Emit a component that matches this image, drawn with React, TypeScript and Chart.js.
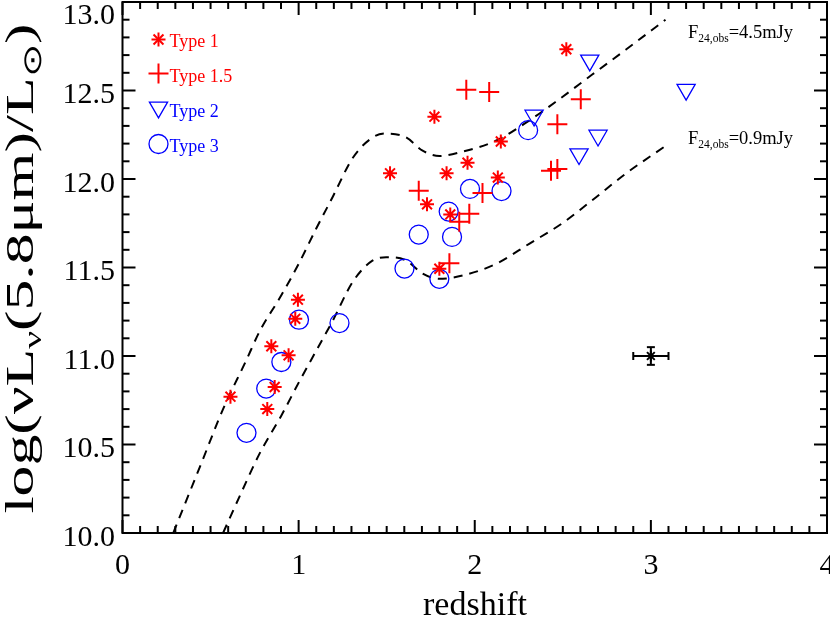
import React, { useEffect, useRef } from 'react';
import { Chart, registerables } from 'chart.js';

Chart.register(...registerables);

// ---- Data (redshift, log luminosity) ----
const type1Z = [0.613, 0.822, 0.864, 0.845, 0.943, 0.981, 0.996, 1.519, 1.729, 1.771, 1.799, 1.840, 1.861, 1.959, 2.131, 2.148, 2.520];
const type1L = [10.77, 10.70, 10.825, 11.055, 11.004, 11.21, 11.318, 12.032, 11.857, 12.352, 11.493, 12.032, 11.80, 12.092, 12.008, 12.212, 12.733];

const type15Z = [1.682, 1.856, 1.912, 1.969, 1.952, 2.082, 2.044, 2.433, 2.469, 2.469, 2.602];
const type15L = [11.934, 11.524, 11.759, 11.803, 12.504, 12.492, 11.921, 12.047, 12.057, 12.31, 12.45];

const type2Z = [2.337, 2.592, 2.653, 2.70, 3.20];
const type2L = [12.359, 12.141, 12.67, 12.246, 12.505];

const type3Z = [0.704, 0.816, 0.902, 1.002, 1.232, 1.601, 1.682, 1.799, 1.852, 1.871, 1.973, 2.152, 2.303];
const type3L = [10.566, 10.816, 10.966, 11.205, 11.186, 11.494, 11.686, 11.436, 11.816, 11.673, 11.944, 11.932, 12.276];

// flux-limit tracks
const limitHighZ = [0.288, 0.45, 0.571, 0.7, 0.779, 0.9, 1.0, 1.1, 1.194, 1.308, 1.421, 1.497, 1.61, 1.704, 1.799, 1.931, 2.12, 2.309, 2.479, 2.667, 2.857, 3.083];
const limitHighL = [10.0, 10.40, 10.70, 10.97, 11.14, 11.34, 11.52, 11.72, 11.90, 12.12, 12.235, 12.257, 12.235, 12.16, 12.13, 12.155, 12.216, 12.33, 12.45, 12.59, 12.73, 12.90];
const limitLowZ = [0.571, 0.68, 0.779, 0.9, 1.006, 1.1, 1.194, 1.308, 1.421, 1.497, 1.61, 1.704, 1.799, 1.931, 2.12, 2.309, 2.497, 2.667, 2.857, 3.102];
const limitLowL = [10.0, 10.24, 10.45, 10.66, 10.86, 11.03, 11.20, 11.42, 11.54, 11.558, 11.54, 11.465, 11.436, 11.455, 11.52, 11.634, 11.75, 11.88, 12.03, 12.20];

// typical error bar
const errZ = [3.0];
const errL = [11.0];
const errDZ = 0.1;
const errDL = 0.05;

// axes
const xMin = 0, xMax = 4, xStep = 1;
const yMin = 10, yMax = 13, yStep = 0.5;
const xTickLabels = ['0', '1', '2', '3', '4'];
const yTickLabels = ['10.0', '10.5', '11.0', '11.5', '12.0', '12.5', '13.0'];
const xTitle = 'redshift';
const yTitleParts: [string, boolean][] = [['log(\u03bdL', false], ['\u03bd', true], ['(5.8\u03bcm)/L', false], ['\u2299', true], [')', false]];

const legendLabels = ['Type 1', 'Type 1.5', 'Type 2', 'Type 3'];
const limitLabels = ['=4.5mJy', '=0.9mJy'];
const limitSub = '24,obs';

const RED = '#ff0000';
const BLUE = '#0000ff';
const SERIF = '"Liberation Serif", "Times New Roman", serif';

function txt(ctx: CanvasRenderingContext2D, s: string, x: number, y: number, size: number, color: string, align: CanvasTextAlign, sx = 1, sy = 1) {
  ctx.save();
  ctx.translate(x, y);
  ctx.scale(sx, sy);
  ctx.font = `${size}px ${SERIF}`;
  ctx.fillStyle = color;
  ctx.textAlign = align;
  ctx.textBaseline = 'alphabetic';
  ctx.fillText(s, 0, 0);
  ctx.restore();
}

function seg(ctx: CanvasRenderingContext2D, x1: number, y1: number, x2: number, y2: number) {
  ctx.beginPath();
  ctx.moveTo(x1, y1);
  ctx.lineTo(x2, y2);
  ctx.stroke();
}

const framePlugin = {
  id: 'frame',
  afterDatasetsDraw(chart: any) {
    const ctx: CanvasRenderingContext2D = chart.ctx;
    const a = chart.chartArea;
    const xs = chart.scales.x;
    const ys = chart.scales.y;
    ctx.save();

    // error bar
    ctx.strokeStyle = '#000';
    ctx.lineWidth = 2;
    for (let i = 0; i < errZ.length; i++) {
      const cx = xs.getPixelForValue(errZ[i]);
      const cy = ys.getPixelForValue(errL[i]);
      const xl = xs.getPixelForValue(errZ[i] - errDZ);
      const xr = xs.getPixelForValue(errZ[i] + errDZ);
      const yt = ys.getPixelForValue(errL[i] + errDL);
      const yb = ys.getPixelForValue(errL[i] - errDL);
      seg(ctx, xl, cy, xr, cy);
      seg(ctx, xl, cy - 4, xl, cy + 4);
      seg(ctx, xr, cy - 4, xr, cy + 4);
      seg(ctx, cx, yt, cx, yb);
      seg(ctx, cx - 4, yt, cx + 4, yt);
      seg(ctx, cx - 4, yb, cx + 4, yb);
    }

    // frame
    ctx.strokeStyle = '#000';
    ctx.lineWidth = 2;
    ctx.strokeRect(a.left, a.top, a.right - a.left, a.bottom - a.top);

    // ticks
    const nx = Math.round((xMax - xMin) / 0.1);
    for (let i = 0; i <= nx; i++) {
      const px = xs.getPixelForValue(xMin + i * 0.1);
      const len = i % 10 === 0 ? 13 : 7;
      seg(ctx, px, a.bottom, px, a.bottom - len);
      seg(ctx, px, a.top, px, a.top + len);
    }
    const ny = Math.round((yMax - yMin) / 0.1);
    for (let i = 0; i <= ny; i++) {
      const py = ys.getPixelForValue(yMin + i * 0.1);
      const len = i % 5 === 0 ? 13 : 7;
      seg(ctx, a.left, py, a.left + len, py);
      seg(ctx, a.right, py, a.right - len, py);
    }

    // tick labels
    const tickSize = 30;
    xs.ticks.forEach((t: any, i: number) => {
      const px = xs.getPixelForValue(t.value);
      txt(ctx, xTickLabels[i] ?? String(t.value), px, 574, tickSize, '#000', 'center');
    });
    ys.ticks.forEach((t: any, i: number) => {
      const py = ys.getPixelForValue(t.value);
      const base = Math.max(py + 12.5, 24);
      txt(ctx, yTickLabels[i] ?? String(t.value), 115, base, tickSize, '#000', 'right');
    });

    // x title
    {
      const size = 34;
      ctx.font = `${size}px ${SERIF}`;
      const w = ctx.measureText(xTitle).width;
      const sx = 104 / w;
      txt(ctx, xTitle, 475, 615, size, '#000', 'center', sx);
    }

    // y title (rotated, with subscripts), fitted to the plot height
    {
      const F = 50;
      const fs = 32;
      const hScale = 0.8;
      const widths: number[] = [];
      let W = 0;
      for (const [s, sub] of yTitleParts) {
        ctx.font = `${sub ? fs : F}px ${SERIF}`;
        const w = ctx.measureText(s).width;
        widths.push(w);
        W += w;
      }
      const lenScale = 490 / W;
      ctx.save();
      ctx.translate(33, 268.5);
      ctx.rotate(-Math.PI / 2);
      ctx.scale(lenScale, hScale);
      ctx.fillStyle = '#000';
      ctx.textAlign = 'left';
      ctx.textBaseline = 'alphabetic';
      let u = -W / 2;
      yTitleParts.forEach(([s, sub], k) => {
        ctx.font = `${sub ? fs : F}px ${SERIF}`;
        ctx.fillText(s, u, sub ? 10 : 0);
        u += widths[k];
      });
      ctx.restore();
    }

    // legend
    const lx = 158.5;
    const ly = [39.5, 73.5, 110, 144];
    const lb = [47.3, 82.3, 117.3, 152];
    const lc = [RED, RED, BLUE, BLUE];
    // asterisk
    ctx.strokeStyle = RED;
    ctx.lineWidth = 2;
    for (let k = 0; k < 4; k++) {
      const ang = (k * Math.PI) / 4;
      const r = 7;
      seg(ctx, lx - Math.cos(ang) * r, ly[0] - Math.sin(ang) * r, lx + Math.cos(ang) * r, ly[0] + Math.sin(ang) * r);
    }
    // plus
    seg(ctx, lx - 10, ly[1], lx + 10, ly[1]);
    seg(ctx, lx, ly[1] - 10, lx, ly[1] + 10);
    // triangle
    ctx.strokeStyle = BLUE;
    ctx.lineWidth = 1.3;
    {
      const r = 10.5;
      const c = ly[2] - r / 4;
      ctx.beginPath();
      ctx.moveTo(lx, c + r);
      ctx.lineTo(lx - r * Math.sin(Math.PI / 3), c - r / 2);
      ctx.lineTo(lx + r * Math.sin(Math.PI / 3), c - r / 2);
      ctx.closePath();
      ctx.stroke();
    }
    // circle
    ctx.beginPath();
    ctx.arc(lx, ly[3], 9.5, 0, Math.PI * 2);
    ctx.stroke();
    legendLabels.forEach((s, k) => txt(ctx, s, 169.5, lb[k], 18, lc[k], 'left'));

    // flux limit labels
    const fBase = [38.3, 144];
    fBase.forEach((b, k) => {
      ctx.font = `18.5px ${SERIF}`;
      let x0 = 688;
      txt(ctx, 'F', x0, b, 18.5, '#000', 'left');
      x0 += ctx.measureText('F').width;
      txt(ctx, limitSub, x0, b + 3.5, 11.5, '#000', 'left');
      ctx.font = `11.5px ${SERIF}`;
      x0 += ctx.measureText(limitSub).width;
      txt(ctx, limitLabels[k], x0, b, 18.5, '#000', 'left');
    });

    ctx.restore();
  },
};

function pts(xs: number[], ys: number[]) {
  return xs.map((x, i) => ({ x, y: ys[i] }));
}

export default function App() {
  const ref = useRef<HTMLCanvasElement>(null);
  useEffect(() => {
    const canvas = ref.current!;
    const chart = new Chart(canvas, {
      type: 'scatter',
      data: {
        datasets: [
          {
            label: 'err',
            data: pts(errZ, errL),
            pointStyle: 'star',
            pointRadius: 5.5,
            borderColor: '#000',
            backgroundColor: 'rgba(0,0,0,0)',
            borderWidth: 2,
          },
          {
            label: legendLabels[0],
            data: pts(type1Z, type1L),
            pointStyle: 'star',
            pointRadius: 7,
            borderColor: RED,
            backgroundColor: 'rgba(0,0,0,0)',
            borderWidth: 2,
          },
          {
            label: legendLabels[1],
            data: pts(type15Z, type15L),
            pointStyle: 'cross',
            pointRadius: 10,
            borderColor: RED,
            backgroundColor: 'rgba(0,0,0,0)',
            borderWidth: 2,
          },
          {
            label: legendLabels[2],
            data: pts(type2Z, type2L),
            pointStyle: 'triangle',
            rotation: 180,
            pointRadius: 10.5,
            borderColor: BLUE,
            backgroundColor: 'rgba(0,0,0,0)',
            borderWidth: 1.3,
          },
          {
            label: legendLabels[3],
            data: pts(type3Z, type3L),
            pointStyle: 'circle',
            pointRadius: 9.5,
            borderColor: BLUE,
            backgroundColor: 'rgba(0,0,0,0)',
            borderWidth: 1.3,
          },
          {
            label: '4.5mJy',
            type: 'line',
            data: pts(limitHighZ, limitHighL),
            showLine: true,
            pointRadius: 0,
            borderColor: '#000',
            borderWidth: 2,
            borderDash: [9, 7],
            cubicInterpolationMode: 'monotone',
            fill: false,
          } as any,
          {
            label: '0.9mJy',
            type: 'line',
            data: pts(limitLowZ, limitLowL),
            showLine: true,
            pointRadius: 0,
            borderColor: '#000',
            borderWidth: 2,
            borderDash: [9, 7],
            cubicInterpolationMode: 'monotone',
            fill: false,
          } as any,
        ],
      },
      options: {
        animation: false,
        responsive: false,
        devicePixelRatio: 1,
        events: [],
        layout: { autoPadding: false, padding: { left: 0, right: 3, top: 2, bottom: 0 } },
        plugins: { legend: { display: false }, tooltip: { enabled: false } },
        scales: {
          x: {
            type: 'linear',
            min: xMin,
            max: xMax,
            ticks: { display: false, stepSize: xStep },
            grid: { display: false },
            border: { display: false },
            afterFit: (s: any) => { s.height = 90; },
          },
          y: {
            type: 'linear',
            min: yMin,
            max: yMax,
            ticks: { display: false, stepSize: yStep },
            grid: { display: false },
            border: { display: false },
            afterFit: (s: any) => { s.width = 122.5; },
          },
        },
      },
      plugins: [framePlugin],
    });
    return () => chart.destroy();
  }, []);
  return (
    <div style={{ position: 'fixed', left: 0, top: 0, width: 830, height: 623, background: '#fff' }}>
      <canvas ref={ref} width={830} height={623} style={{ display: 'block', width: 830, height: 623 }} />
    </div>
  );
}
